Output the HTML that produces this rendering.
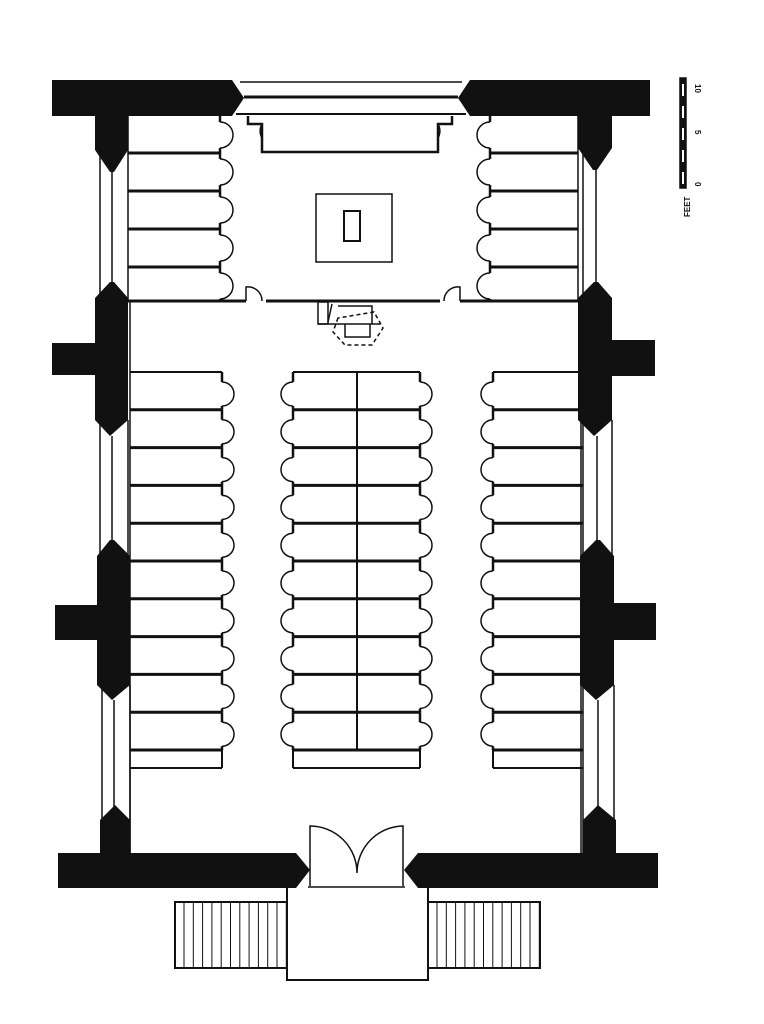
<!DOCTYPE html>
<html><head><meta charset="utf-8"><style>
html,body{margin:0;padding:0;background:#fff;width:764px;height:1024px;overflow:hidden}
svg{display:block}
</style></head><body>
<svg id="s" width="764" height="1024" viewBox="0 0 764 1024" xmlns="http://www.w3.org/2000/svg" font-family="Liberation Sans, sans-serif">
<rect width="764" height="1024" fill="#fff"/>
<g fill="#111" stroke="none">
<!-- top wall -->
<polygon points="52,80 232,80 244,98 232,116 52,116"/>
<polygon points="650,80 470,80 458,98 470,116 650,116"/>
<!-- left wall piers -->
<polygon points="95,116 128,116 128,150 114,172 110,172 95,150"/>
<polygon points="110,282 95,298 95,343 52,343 52,375 95,375 95,420 110,436 128,420 128,298 114,282"/>
<polygon points="110,540 97,556 97,605 55,605 55,640 97,640 97,685 112,700 130,685 130,556 114,540"/>
<polygon points="115,805 100,820 100,855 130,855 130,820"/>
<!-- right wall piers -->
<polygon points="578,116 612,116 612,148 597,170 593,170 578,148"/>
<polygon points="594,282 578,298 578,420 594,436 612,420 612,376 655,376 655,340 612,340 612,298 598,282"/>
<polygon points="596,540 580,556 580,685 596,700 614,685 614,640 656,640 656,603 614,603 614,556 600,540"/>
<polygon points="598,805 583,820 583,855 616,855 616,820"/>
<!-- bottom wall -->
<polygon points="58,853 296,853 310,870 296,888 58,888"/>
<polygon points="658,853 418,853 404,870 418,888 658,888"/>
</g>
<g stroke="#111" fill="none" stroke-width="1.5">
<!-- top window -->
<line x1="240" y1="82" x2="462" y2="82"/><line x1="244" y1="97" x2="458" y2="97" stroke-width="3"/><line x1="236" y1="114" x2="466" y2="114" stroke-width="2"/>
<!-- side windows -->
<path d="M100,150V300M128,116V300M112,170V285" />
<path d="M100,420V560M128,420V560M112,436V542" />
<path d="M102,685V825M130,685V855M114,700V808" />
<path d="M583,150V300M578,116V300M596,170V285" />
<path d="M612,420V560M583,420V560M597,436V542" />
<path d="M614,685V825M583,685V855M598,700V808" />
<!-- inner wall lines -->
<line x1="130" y1="300" x2="130" y2="855"/><line x1="581" y1="300" x2="581" y2="855"/>
<!-- cross wall -->
<path d="M128,301H246M266,301H440M460,301H578" stroke-width="3"/>
<path d="M246,301V287A14,14 0 0 1 262,301"/>
<path d="M460,301V287A14,14 0 0 0 444,301"/>
<!-- centre bench top -->
<path d="M248,116V124H262V152H438V124H452V116" stroke-width="2.5"/>
<path d="M262,124A14,14 0 0 0 262,138"/>
<path d="M438,124A14,14 0 0 1 438,138"/>
<!-- altar -->
<rect x="316" y="194" width="76" height="68"/>
<rect x="344" y="211" width="16" height="30" stroke-width="2"/>
<!-- lectern -->
<rect x="318" y="302" width="10" height="22"/>
<path d="M318,324H380M338,306H372V324M345,324V337H370V324M332,304L328,322" />
<polygon points="338,318 333,332 345,345 372,345 383,328 374,312" stroke-dasharray="4,3"/>
<!-- door -->
<path d="M310,886V826A47,47 0 0 1 357,873A47,47 0 0 1 403,826V886"/>
<line x1="308" y1="887" x2="405" y2="887"/>
<!-- porch -->
<path d="M287,888V980H428V888" stroke-width="2"/>
<rect x="175" y="902" width="112" height="66" stroke-width="2"/>
<rect x="428" y="902" width="112" height="66" stroke-width="2"/>
<!-- scale bar -->
<rect x="680" y="78" width="6" height="110" fill="#111"/>
<path d="M683,84V96M683,106V118M683,128V140M683,150V162M683,172V184" stroke="#fff" stroke-width="2"/>
</g>
<g id="gen" stroke="#111" fill="none" stroke-width="1.5"></g>
<g font-size="8" fill="#111" font-weight="bold">
<text transform="translate(695,84) rotate(90)">10</text>
<text transform="translate(695,130) rotate(90)">5</text>
<text transform="translate(695,182) rotate(90)">0</text>
<text transform="translate(690,217) rotate(-90)">FEET</text>
</g>
</svg>
<script>
var g=document.getElementById('gen'),h='';
function L(x1,y1,x2,y2,w){h+='<line x1="'+x1+'" y1="'+y1+'" x2="'+x2+'" y2="'+y2+'"'+(w?' stroke-width="'+w+'"':'')+'/>';}
function arcR(x,y,r){h+='<path d="M'+x+','+y+'A'+r+','+r+' 0 0 1 '+x+','+(y+2*r)+'"/>';}
function arcL(x,y,r){h+='<path d="M'+x+','+y+'A'+r+','+r+' 0 0 0 '+x+','+(y+2*r)+'"/>';}
// top stalls
var ty=[116,153,191,229,267,301];
for(var i=0;i<ty.length;i++){
 if(i>0&&i<5){L(128,ty[i],220,ty[i],3);L(490,ty[i],578,ty[i],3);}
}
for(var i=0;i<5;i++){
 var a=ty[i]+6,b=ty[i+1]-6;
 L(220,ty[i],220,a,2.5);L(220,a+26,220,ty[i+1],2.5);arcR(220,a,13);
 L(490,ty[i],490,a,2.5);L(490,a+26,490,ty[i+1],2.5);arcL(490,a,13);
}
// main stalls
var ys=[];for(var k=0;k<=10;k++)ys.push(372+k*37.8);
ys.push(768);
for(var k=0;k<ys.length;k++){
 var y=ys[k].toFixed(1),w=(k==0||k==11)?2:3;
 L(130,y,222,y,w);L(293,y,420,y,w);L(493,y,583,y,w);
}
L(357,372,357,750,2);
for(var k=0;k<10;k++){
 var y0=ys[k],a=y0+10;
 L(222,y0,222,a,2.5);L(222,a+24,222,ys[k+1],2.5);arcR(222,a,12);
 L(293,y0,293,a,2.5);L(293,a+24,293,ys[k+1],2.5);arcL(293,a,12);
 L(420,y0,420,a,2.5);L(420,a+24,420,ys[k+1],2.5);arcR(420,a,12);
 L(493,y0,493,a,2.5);L(493,a+24,493,ys[k+1],2.5);arcL(493,a,12);
}
L(222,750,222,768,2);L(293,750,293,768,2);L(420,750,420,768,2);L(493,750,493,768,2);
// stairs
for(var x=184;x<287;x+=9.3){L(x.toFixed(1),902,x.toFixed(1),968,1);}
for(var x=437;x<540;x+=9.3){L(x.toFixed(1),902,x.toFixed(1),968,1);}
g.innerHTML=h;
</script>
</body></html>
